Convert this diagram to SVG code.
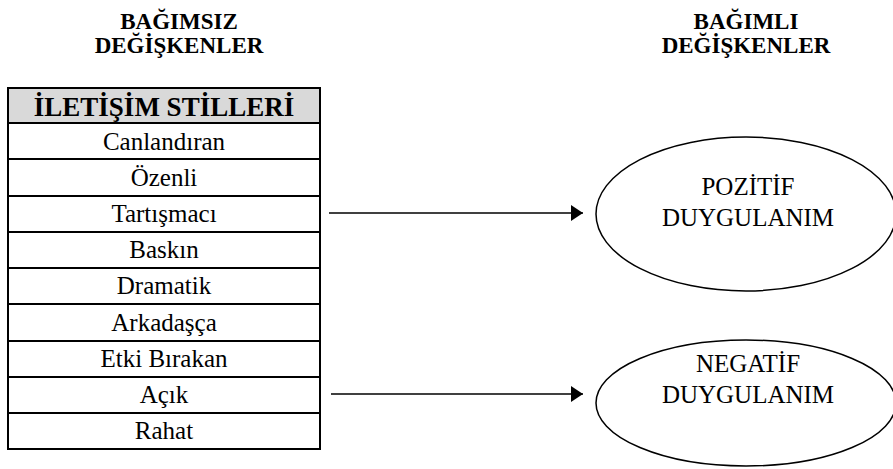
<svg xmlns="http://www.w3.org/2000/svg" width="893" height="469" viewBox="0 0 893 469">
  <style>
    .t { font-family: "Liberation Serif", "Times New Roman", serif; fill: #000; text-anchor: middle; }
    .b { font-weight: bold; }
    .row { font-size: 25px; }
    .cell { fill: #fff; stroke: #000; stroke-width: 2; }
    .ell { fill: #fff; stroke: #000; stroke-width: 1.5; }
    .conn { stroke: #000; stroke-width: 1.5; fill: none; marker-end: url(#arr); }
  </style>
  <defs>
    <marker id="arr" viewBox="0 0 12 16" refX="12" refY="8" markerWidth="12" markerHeight="16" markerUnits="userSpaceOnUse" orient="auto">
      <path d="M0,0 L12,8 L0,16 Z" fill="#000"/>
    </marker>
  </defs>
  <rect width="893" height="469" fill="#fff"/>

  <g id="title-independent">
    <text class="t b" x="179" y="29" font-size="23">BAĞIMSIZ</text>
    <text class="t b" x="179" y="53" font-size="23">DEĞİŞKENLER</text>
  </g>
  <g id="title-dependent">
    <text class="t b" x="746" y="29" font-size="23">BAĞIMLI</text>
    <text class="t b" x="746" y="53" font-size="23">DEĞİŞKENLER</text>
  </g>

  <g id="iletisim-stilleri">
    <rect x="8" y="88" width="312" height="35" fill="#d9d9d9" stroke="#000" stroke-width="2"/>
    <text class="t b" x="164" y="116" font-size="27">İLETİŞİM STİLLERİ</text>
    <rect class="cell" x="8" y="123" width="312" height="36"/>
    <text class="t row" x="164" y="150">Canlandıran</text>
    <rect class="cell" x="8" y="159" width="312" height="37"/>
    <text class="t row" x="164" y="186">Özenli</text>
    <rect class="cell" x="8" y="196" width="312" height="36"/>
    <text class="t row" x="164" y="222">Tartışmacı</text>
    <rect class="cell" x="8" y="232" width="312" height="36"/>
    <text class="t row" x="164" y="258">Baskın</text>
    <rect class="cell" x="8" y="268" width="312" height="36"/>
    <text class="t row" x="164" y="294">Dramatik</text>
    <rect class="cell" x="8" y="304" width="312" height="37"/>
    <text class="t row" x="164" y="331">Arkadaşça</text>
    <rect class="cell" x="8" y="341" width="312" height="36"/>
    <text class="t row" x="164" y="367">Etki Bırakan</text>
    <rect class="cell" x="8" y="377" width="312" height="36"/>
    <text class="t row" x="164" y="403">Açık</text>
    <rect class="cell" x="8" y="413" width="312" height="36"/>
    <text class="t row" x="164" y="439">Rahat</text>
  </g>

  <g id="pozitif-duygulanim">
    <ellipse class="ell" cx="746" cy="214" rx="150" ry="77"/>
    <text class="t" x="748" y="195" font-size="25">POZİTİF</text>
    <text class="t" x="748" y="226" font-size="25">DUYGULANIM</text>
  </g>
  <g id="negatif-duygulanim">
    <ellipse class="ell" cx="746" cy="403" rx="150" ry="63"/>
    <text class="t" x="748" y="372" font-size="25">NEGATİF</text>
    <text class="t" x="748" y="403" font-size="25">DUYGULANIM</text>
  </g>

  <g id="connectors">
    <line class="conn" x1="329" y1="213" x2="583" y2="213"/>
    <line class="conn" x1="331" y1="394" x2="583" y2="394"/>
  </g>
</svg>
